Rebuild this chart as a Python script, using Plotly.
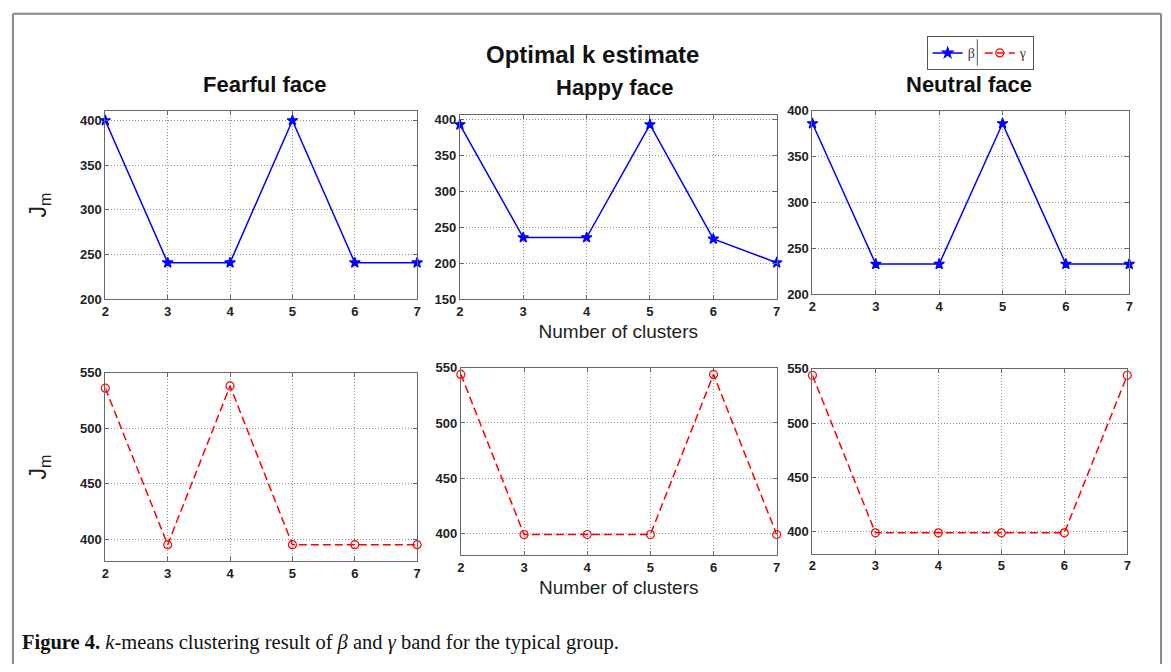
import plotly.graph_objects as go

W, H = 1171, 672

clusters = [2, 3, 4, 5, 6, 7]

beta_fearful = [400, 241, 241, 400, 241, 241]
beta_happy = [393, 236, 236, 393, 234, 201]
beta_neutral = [386, 233, 233, 386, 233, 233]

gamma_fearful = [536, 395, 538, 395, 395, 395]
gamma_happy = [544, 399, 399, 399, 544, 399]
gamma_neutral = [544, 399, 399, 399, 399, 544]

panel_titles = ["Fearful face", "Happy face", "Neutral face"]
main_title = "Optimal k estimate"
x_title = "Number of clusters"
y_title = "J<sub>m</sub>"
caption = ("<b>Figure 4.</b> <i>k</i>-means clustering result of <i>β</i> and "
           "<i>γ</i> band for the typical group.")

# pixel boxes (left, right, top, bottom)
boxes = [
    (102, 416, 106, 299),
    (459, 778, 110, 299),
    (814, 1133, 106, 294),
    (102, 416, 374, 567),
    (460, 778, 369, 561),
    (814, 1131, 370, 559),
]
yranges = [[200, 411], [150, 407], [200, 400], [380, 550], [380, 550], [380, 550]]

fig = go.Figure()

series = [beta_fearful, beta_happy, beta_neutral, gamma_fearful, gamma_happy, gamma_neutral]
font_main = "Liberation Sans, Arial, sans-serif"

for i, ys in enumerate(series):
    n = i + 1
    xa = "x" if n == 1 else f"x{n}"
    ya = "y" if n == 1 else f"y{n}"
    is_beta = i < 3
    col = "#0000FF" if is_beta else "#FF0000"
    fig.add_trace(go.Scatter(
        x=clusters, y=ys, xaxis=xa, yaxis=ya,
        mode="lines+markers",
        name="β" if is_beta else "γ",
        showlegend=(i == 0 or i == 3),
        line=dict(color=col, width=1.5, dash="solid" if is_beta else "8px,4px"),
        marker=dict(symbol="star" if is_beta else "circle-open",
                    size=8, color=col, line=dict(width=1.2, color=col)),
        cliponaxis=False,
    ))

    l, r, t, b = boxes[i]
    axis_common = dict(
        showline=True, linecolor="#666", linewidth=1, mirror="ticks",
        ticks="inside", ticklen=4, tickcolor="#666",
        showgrid=True, gridcolor="#909090", griddash="1px,2px", gridwidth=1,
        zeroline=False,
        tickfont=dict(family=font_main, size=13, color="#222", weight="bold"),
    )
    xkey = "xaxis" if n == 1 else f"xaxis{n}"
    ykey = "yaxis" if n == 1 else f"yaxis{n}"
    xaxis = dict(axis_common, domain=[l / W, r / W], anchor=ya,
                 range=[2, 7], dtick=1, tick0=2)
    yaxis = dict(axis_common, domain=[1 - b / H, 1 - t / H], anchor=xa,
                 range=yranges[i], dtick=50, tick0=0)
    if n in (2, 5):
        xaxis["title"] = dict(text=x_title, standoff=6,
                              font=dict(family=font_main, size=19, color="#222"))
    if n in (1, 4):
        yaxis["title"] = dict(text=y_title, standoff=26,
                              font=dict(family=font_main, size=23, color="#222"))
    fig.update_layout({xkey: xaxis, ykey: yaxis})

annotations = [
    dict(text=f"<b>{main_title}</b>", x=593 / W, y=1 - 49 / H, xref="paper", yref="paper",
         showarrow=False, xanchor="center", yanchor="middle",
         font=dict(family=font_main, size=24, color="#111")),
]
title_pos = [(263, 79), (615, 82), (972, 79)]
for (tx, ty), txt in zip(title_pos, panel_titles):
    annotations.append(dict(text=f"<b>{txt}</b>", x=tx / W, y=1 - ty / H,
                            xref="paper", yref="paper", showarrow=False,
                            xanchor="center", yanchor="middle",
                            font=dict(family=font_main, size=22, color="#111")))
annotations.append(dict(text=caption, x=16 / W, y=1 - 650 / H, xref="paper", yref="paper",
                        showarrow=False, xanchor="left", yanchor="middle",
                        font=dict(family="Liberation Serif, Times New Roman, serif",
                                  size=20.5, color="#111")))

shapes = [
    # outer figure frame (open at bottom)
    dict(type="line", xref="paper", yref="paper", x0=9 / W, x1=9 / W, y0=0, y1=1 - 7 / H,
         line=dict(color="#888", width=2)),
    dict(type="line", xref="paper", yref="paper", x0=9 / W, x1=1165 / W, y0=1 - 7 / H, y1=1 - 7 / H,
         line=dict(color="#888", width=2)),
    dict(type="line", xref="paper", yref="paper", x0=1165 / W, x1=1165 / W, y0=0, y1=1 - 7 / H,
         line=dict(color="#888", width=2)),
    # legend entry divider
    dict(type="line", xref="paper", yref="paper", x0=980 / W, x1=980 / W,
         y0=1 - 60 / H, y1=1 - 33 / H, line=dict(color="#555", width=1), layer="above"),
]

fig.update_layout(
    width=W, height=H,
    margin=dict(l=0, r=0, t=0, b=0),
    paper_bgcolor="white", plot_bgcolor="white",
    annotations=annotations,
    shapes=shapes,
    legend=dict(orientation="h", x=929 / W, y=1 - 30 / H, xanchor="left", yanchor="top",
                bordercolor="#555", borderwidth=1, bgcolor="rgba(0,0,0,0)",
                font=dict(family="Liberation Serif, serif", size=14, color="#333"),
                itemwidth=30, tracegroupgap=0),
)

fig.write_html("out.html",
               config={"displayModeBar": False},
               post_script="document.body.style.margin='0';document.body.style.overflow='hidden';")
